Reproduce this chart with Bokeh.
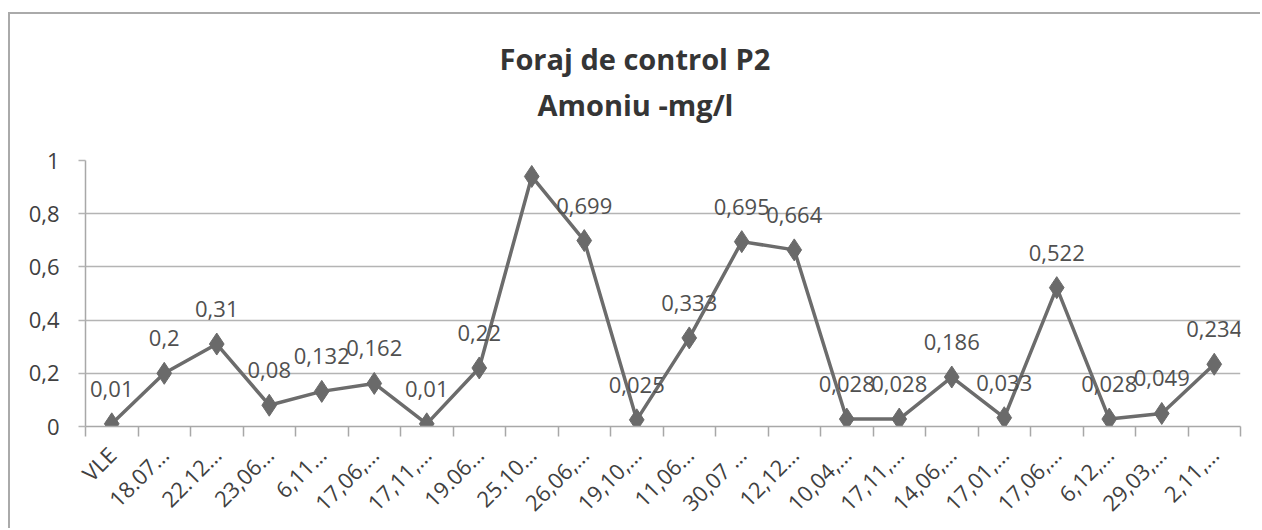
from bokeh.plotting import figure
from bokeh.models import ColumnDataSource, FixedTicker, Title
from bokeh.core.properties import value
from bokeh.embed import file_html
from bokeh.resources import INLINE

categories = ["VLE", "18.07…", "22.12…", "23,06…", "6,11…", "17,06,…", "17,11,…",
              "19.06…", "25.10…", "26,06,…", "19,10,…", "11,06…", "30,07 …", "12,12…",
              "10,04,…", "17,11,…", "14,06,…", "17,01,…", "17,06,…", "6,12,…",
              "29,03,…", "2,11,…"]
values = [0.01, 0.2, 0.31, 0.08, 0.132, 0.162, 0.01, 0.22, 0.94, 0.699, 0.025,
          0.333, 0.695, 0.664, 0.028, 0.028, 0.186, 0.033, 0.522, 0.028, 0.049, 0.234]
y_ticks = [0, 0.2, 0.4, 0.6, 0.8, 1]
y_tick_labels = ["0", "0,2", "0,4", "0,6", "0,8", "1"]
title_lines = ["Foraj de control P2", "Amoniu -mg/l"]

FONT = "Open Sans"
n = len(categories)
xs = [i + 0.5 for i in range(n)]
labels = [f"{v:g}".replace(".", ",") for v in values]
src = ColumnDataSource(dict(x=xs, y=values, lab=labels))

p = figure(width=1252, height=516, x_range=(0, n), y_range=(0, 1),
           output_backend="svg", toolbar_location=None, title=None,
           min_border_left=75, min_border_right=22, min_border_top=146,
           min_border_bottom=100)
p.background_fill_color = "#ffffff"
p.border_fill_color = "#ffffff"
p.outline_line_color = None
p.styles = {"margin-top": "12px", "margin-left": "8px",
            "border-top": "2px solid #aaaaaa", "border-left": "2px solid #aaaaaa"}

# grid
p.xgrid.grid_line_color = None
p.ygrid.grid_line_color = "#b4b4b4"
p.ygrid.grid_line_width = 1.5
p.ygrid.ticker = FixedTicker(ticks=y_ticks)

# y axis
p.yaxis.ticker = FixedTicker(ticks=y_ticks)
p.yaxis.major_label_overrides = {t: l for t, l in zip(y_ticks, y_tick_labels)}
p.yaxis.axis_line_color = "#a8a8a8"
p.yaxis.axis_line_width = 1.5
p.yaxis.major_tick_line_color = "#b4b4b4"
p.yaxis.major_tick_line_width = 1.5
p.yaxis.major_tick_out = 7
p.yaxis.major_tick_in = 0
p.yaxis.minor_tick_line_color = None
p.yaxis.major_label_text_font = FONT
p.yaxis.major_label_text_font_size = "22px"
p.yaxis.major_label_text_color = "#404040"
p.yaxis.major_label_standoff = 19

# x axis
p.xaxis.ticker = FixedTicker(ticks=xs, minor_ticks=list(range(n + 1)))
p.xaxis.major_label_overrides = {x: c for x, c in zip(xs, categories)}
p.xaxis.major_label_orientation = 0.785398
p.xaxis.axis_line_color = "#a8a8a8"
p.xaxis.axis_line_width = 1.5
p.xaxis.major_tick_line_color = None
p.xaxis.minor_tick_line_color = "#a8a8a8"
p.xaxis.minor_tick_line_width = 1.5
p.xaxis.minor_tick_out = 10
p.xaxis.minor_tick_in = 0
p.xaxis.major_label_text_font = FONT
p.xaxis.major_label_text_font_size = "22px"
p.xaxis.major_label_text_color = "#404040"
p.xaxis.major_label_standoff = 14

# series
p.line("x", "y", source=src, line_color="#6c6c6c", line_width=3.5)
p.scatter("x", "y", source=src, marker="diamond", size=22, fill_color="#6a6a6a",
          line_color="#6a6a6a")
p.text("x", "y", text="lab", source=src, text_align="center", text_baseline="middle",
       y_offset=-35, text_font=value(FONT), text_font_size="22px", text_color="#505050")

# title lines, stacked upward from the plot: spacer, line 2, line 1
p.add_layout(Title(text=" ", text_font=FONT, text_font_size="20px", standoff=6), "above")
p.add_layout(Title(text=title_lines[1], align="left", offset=452, text_font=FONT,
                   text_font_size="29px", text_font_style="bold", text_color="#353535",
                   standoff=3), "above")
p.add_layout(Title(text=title_lines[0], align="left", offset=414, text_font=FONT,
                   text_font_size="29px", text_font_style="bold", text_color="#353535",
                   standoff=8), "above")

open("out.html", "w").write(file_html(p, INLINE))
